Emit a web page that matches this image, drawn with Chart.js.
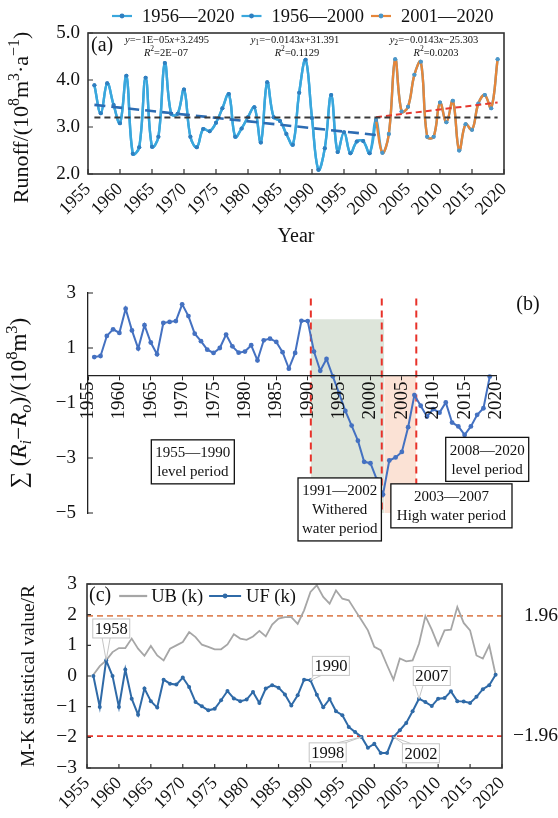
<!DOCTYPE html>
<html>
<head>
<meta charset="utf-8">
<script src="https://cdn.jsdelivr.net/npm/chart.js@4.4.1/dist/chart.umd.min.js"></script>
<style>
  html, body { margin: 0; padding: 0; background: #fff; }
  #wrap { position: relative; width: 558px; height: 818px; overflow: hidden; }
  canvas { position: absolute; left: 0; }
</style>
</head>
<body>
<div id="wrap">
  <canvas id="chartA" width="558" height="250" style="top:0"></canvas>
  <canvas id="chartB" width="558" height="300" style="top:250px"></canvas>
  <canvas id="chartC" width="558" height="258" style="top:560px"></canvas>
</div>
<script>
const FONT = '"Liberation Serif", "DejaVu Serif", serif';

// ---- data ----
const years = [1956, 1957, 1958, 1959, 1960, 1961, 1962, 1963, 1964, 1965, 1966, 1967, 1968, 1969, 1970,
  1971, 1972, 1973, 1974, 1975, 1976, 1977, 1978, 1979, 1980, 1981, 1982, 1983, 1984, 1985, 1986, 1987,
  1988, 1989, 1990, 1991, 1992, 1993, 1994, 1995, 1996, 1997, 1998, 1999, 2000, 2001, 2002, 2003, 2004,
  2005, 2006, 2007, 2008, 2009, 2010, 2011, 2012, 2013, 2014, 2015, 2016, 2017, 2018, 2019];

// (a) annual runoff, 10^8 m3/a
const runoff = [3.89, 3.29, 3.93, 3.47, 3.08, 4.09, 2.43, 2.57, 4.05, 2.58, 2.79, 4.36, 3.28, 3.28, 3.80,
  2.79, 2.57, 2.96, 2.91, 3.09, 3.40, 3.70, 2.79, 2.97, 3.21, 3.42, 2.67, 3.95, 3.21, 3.13, 2.85, 2.62,
  3.73, 4.43, 3.19, 2.09, 2.55, 3.68, 2.47, 2.89, 2.44, 2.69, 2.70, 2.44, 3.15, 2.45, 2.85, 4.44, 3.33,
  3.43, 4.11, 4.39, 2.79, 2.79, 3.52, 3.10, 3.56, 2.50, 3.06, 2.94, 3.50, 3.68, 3.40, 4.44];

// trend lines of (a)
const meanYears = [1956, 2019];
const meanLine = [3.2, 3.2];
const trend1Years = [1956, 2000];
const trend1 = [3.47, 2.83];
const trend2Years = [2000, 2019];
const trend2 = [3.21, 3.52];

// (b) cumulative anomaly
const cumAnomaly = [0.67, 0.71, 1.44, 1.68, 1.55, 2.43, 1.64, 0.98, 1.83, 1.20, 0.77, 1.91, 1.95, 1.98, 2.59,
  2.16, 1.52, 1.25, 0.94, 0.82, 1.00, 1.49, 1.06, 0.83, 0.87, 1.10, 0.55, 1.28, 1.34, 1.22, 0.85, 0.25,
  0.82, 1.99, 1.98, 0.87, 0.17, 0.60, -0.03, -0.64, -1.29, -1.82, -2.37, -3.14, -3.19, -3.78, -4.33, -3.09, -2.98,
  -2.78, -1.88, -0.71, -1.10, -1.49, -1.22, -1.35, -0.98, -1.71, -1.85, -2.16, -1.85, -1.43, -1.19, -0.04];

const periodBreaks = [1990.5, 2001.8, 2007.3];
const witheredSpan = [1990.5, 2002.2];
const witheredTop = 2.05;
const highSpan = [2002.2, 2007.3];
const highTop = 0;
const shadeBottom = -5;
const breakTop = 2.8;

// (c) Mann-Kendall
const ufStat = [0.00, -1.01, 0.51, 0.00, -1.01, 0.21, -0.74, -1.26, -0.41, -0.82, -1.03, -0.12, -0.25, -0.28, -0.05,
  -0.36, -0.85, -0.99, -1.12, -1.07, -0.79, -0.49, -0.73, -0.82, -0.77, -0.52, -0.88, -0.41, -0.30, -0.38, -0.60, -0.96,
  -0.63, -0.12, -0.14, -0.61, -1.02, -0.75, -1.15, -1.28, -1.66, -1.83, -1.99, -2.34, -2.21, -2.51, -2.51, -1.99, -1.77,
  -1.53, -1.15, -0.74, -0.85, -0.98, -0.74, -0.72, -0.50, -0.82, -0.83, -0.88, -0.68, -0.43, -0.30, 0.04];
const ubStat = [0.04, 0.32, 0.51, 0.78, 0.91, 0.91, 1.22, 0.89, 0.66, 0.98, 0.67, 0.51, 0.89, 1.00, 1.11,
  1.43, 1.27, 1.02, 0.95, 0.87, 0.87, 1.03, 1.36, 1.22, 1.18, 1.29, 1.47, 1.29, 1.68, 1.87, 1.92, 1.92,
  1.70, 2.14, 2.74, 2.96, 2.58, 2.36, 2.79, 2.52, 2.47, 2.14, 1.82, 1.49, 0.95, 0.84, 0.35, -0.12, 0.57,
  0.48, 0.51, 1.05, 1.95, 1.51, 1.00, 1.49, 1.51, 2.25, 1.73, 1.49, 0.67, 0.57, 1.00, 0.04];
const critical = [1.96, -1.96];

// tick labels
const yearTicks = [1955, 1960, 1965, 1970, 1975, 1980, 1985, 1990, 1995, 2000, 2005, 2010, 2015, 2020];
const runoffTicks = [2.0, 2.5, 3.0, 3.5, 4.0, 4.5, 5.0];
const cumTicks = [-5, -3, -1, 1, 3];
const mkTicks = [-3, -2, -1, 0, 1, 2, 3];

// ---- helpers ----
const pts = (xs, ys) => xs.map((x, i) => ({ x, y: ys[i] }));
const runoffPts = pts(years, runoff);
const minus = v => String(v).replace('-', '\u2212');
const setTicks = list => s => { s.ticks = list.map(v => ({ value: v })); };

function drawRuns(ctx, runs, cx, cy, size) {
  const fontOf = r => {
    const st = r[1] || '';
    const small = st.includes('sub') || st.includes('sup');
    return (st.startsWith('i') ? 'italic ' : '') + (small ? size * 0.72 : size) + 'px ' + FONT;
  };
  let w = 0;
  runs.forEach(r => { ctx.font = fontOf(r); w += ctx.measureText(r[0]).width; });
  let x = cx - w / 2;
  ctx.textAlign = 'left';
  ctx.textBaseline = 'middle';
  runs.forEach(r => {
    const st = r[1] || '';
    const dy = st.includes('sub') ? size * 0.28 : st.includes('sup') ? -size * 0.34 : 0;
    ctx.font = fontOf(r);
    ctx.fillText(r[0], x, cy + dy);
    x += ctx.measureText(r[0]).width;
  });
}

function rotatedRuns(ctx, runs, x, y, size) {
  ctx.save();
  ctx.translate(x, y);
  ctx.rotate(-Math.PI / 2);
  drawRuns(ctx, runs, 0, 0, size);
  ctx.restore();
}

function frameAndTicks(chart, len) {
  const { ctx, chartArea: a, scales: { x, y } } = chart;
  ctx.save();
  ctx.strokeStyle = '#333';
  ctx.lineWidth = 1.2;
  ctx.beginPath();
  x.ticks.forEach(t => { const px = x.getPixelForValue(t.value); ctx.moveTo(px, a.bottom); ctx.lineTo(px, a.bottom - len); });
  y.ticks.forEach(t => { const py = y.getPixelForValue(t.value); ctx.moveTo(a.left, py); ctx.lineTo(a.left + len, py); });
  ctx.stroke();
  ctx.lineWidth = 1.6;
  ctx.strokeRect(a.left, a.top, a.right - a.left, a.bottom - a.top);
  ctx.restore();
}

function textBox(ctx, lines, cx, cy, o) {
  ctx.font = o.size + 'px ' + FONT;
  const w = Math.max(...lines.map(l => ctx.measureText(l).width)) + 2 * o.padX;
  const h = lines.length * o.lineH + 2 * o.padY;
  const x0 = cx - w / 2, y0 = cy - h / 2;
  ctx.fillStyle = '#fff';
  ctx.fillRect(x0, y0, w, h);
  ctx.strokeStyle = o.border;
  ctx.lineWidth = o.lw;
  ctx.strokeRect(x0, y0, w, h);
  ctx.fillStyle = '#111';
  ctx.textAlign = 'center';
  ctx.textBaseline = 'middle';
  lines.forEach((l, i) => ctx.fillText(l, cx, y0 + o.padY + o.lineH * (i + 0.5) + 1));
  return { x0, y0, w, h };
}

function legendSymbol(ctx, x, y, w, line, dot) {
  ctx.strokeStyle = line;
  ctx.lineWidth = 2.2;
  ctx.beginPath(); ctx.moveTo(x, y); ctx.lineTo(x + w, y); ctx.stroke();
  if (dot) {
    ctx.fillStyle = dot;
    ctx.beginPath(); ctx.arc(x + w / 2, y, 2.4, 0, Math.PI * 2); ctx.fill();
  }
}

function yearAxis(height) {
  return {
    type: 'linear', min: 1955, max: 2020,
    afterBuildTicks: setTicks(yearTicks),
    afterFit: s => { s.height = height; },
    grid: { display: false, drawTicks: false },
    border: { display: false },
    ticks: {
      autoSkip: false, minRotation: 45, maxRotation: 45, padding: 5, color: '#111',
      font: { family: FONT, size: 18 }, callback: v => String(v)
    }
  };
}

Chart.defaults.animation = false;
Chart.defaults.plugins.legend.display = false;
Chart.defaults.plugins.tooltip.enabled = false;
Chart.defaults.font.family = FONT;

// ---- (a) runoff ----
const decorA = {
  id: 'decorA',
  afterDraw(chart) {
    const { ctx, chartArea: a } = chart;
    frameAndTicks(chart, 5);
    ctx.save();
    ctx.fillStyle = '#111';
    rotatedRuns(ctx, [['Runoff/(10'], ['8', 'sup'], ['m'], ['3', 'sup'], ['\u00b7a'], ['\u22121', 'sup'], [')']], 22, (a.top + a.bottom) / 2 + 14, 22);
    ctx.font = '20px ' + FONT;
    ctx.textAlign = 'left'; ctx.textBaseline = 'middle';
    ctx.fillText('(a)', a.left + 3, a.top + 13);
    const eqY1 = a.top + 7, eqY2 = a.top + 20;
    drawRuns(ctx, [['y', 'i'], ['=\u22121E\u221205'], ['x', 'i'], ['+3.2495']], 167, eqY1, 10.5);
    drawRuns(ctx, [['R', 'i'], ['2', 'sup'], ['=2E\u221207']], 166, eqY2, 10.5);
    drawRuns(ctx, [['y', 'i'], ['1', 'sub'], ['=\u22120.0143'], ['x', 'i'], ['+31.391']], 295, eqY1, 10.5);
    drawRuns(ctx, [['R', 'i'], ['2', 'sup'], ['=0.1129']], 297, eqY2, 10.5);
    drawRuns(ctx, [['y', 'i'], ['2', 'sub'], ['=\u22120.0143'], ['x', 'i'], ['\u221225.303']], 434, eqY1, 10.5);
    drawRuns(ctx, [['R', 'i'], ['2', 'sup'], ['=0.0203']], 436, eqY2, 10.5);

    // legend
    const items = [0, 1, 2].map(i => chart.data.datasets[i]);
    let x = 112;
    items.forEach(ds => {
      legendSymbol(ctx, x, 16, 20, ds.borderColor, ds.pointBackgroundColor);
      ctx.fillStyle = '#111';
      ctx.font = '18.5px ' + FONT;
      ctx.textAlign = 'left'; ctx.textBaseline = 'middle';
      ctx.fillText(ds.label, x + 30, 17);
      x += 30 + ctx.measureText(ds.label).width + 7;
    });
    ctx.restore();
  }
};

new Chart(document.getElementById('chartA'), {
  type: 'line',
  data: {
    datasets: [
      { label: '1956\u20142020', data: runoffPts, borderColor: '#3aa7dd', borderWidth: 2.4, tension: 0.4,
        pointRadius: 2, pointBackgroundColor: '#2f7fc0', pointBorderWidth: 0, order: 4 },
      { label: '1956\u20142000', data: runoffPts.filter(p => p.x <= 2000), borderColor: '#3aa7dd', borderWidth: 2.4, tension: 0.4,
        pointRadius: 2, pointBackgroundColor: '#2f7fc0', pointBorderWidth: 0, order: 3 },
      { label: '2001\u20142020', data: runoffPts.filter(p => p.x >= 2000), borderColor: '#e6863a', borderWidth: 2.4, tension: 0.4,
        pointRadius: 2, pointBackgroundColor: '#4a97c9', pointBorderWidth: 0, order: 2 },
      { data: pts(meanYears, meanLine), borderColor: '#3a3a3a', borderWidth: 2, borderDash: [6, 4], pointRadius: 0, order: 1 },
      { data: pts(trend1Years, trend1), borderColor: '#2c6cb3', borderWidth: 2.6, borderDash: [11, 6], pointRadius: 0, order: 1 },
      { data: pts(trend2Years, trend2), borderColor: '#e5392f', borderWidth: 2, borderDash: [6, 4], pointRadius: 0, order: 1 }
    ]
  },
  options: {
    responsive: false,
    layout: { padding: { top: 33, right: 54, bottom: 0, left: 0 } },
    scales: {
      x: Object.assign(yearAxis(76), {
        title: { display: true, text: 'Year', color: '#111', font: { family: FONT, size: 20 }, padding: { top: 0, bottom: 1 } }
      }),
      y: {
        min: 2, max: 5,
        afterBuildTicks: setTicks(runoffTicks),
        afterFit: s => { s.width = 88; },
        grid: { display: false, drawTicks: false },
        border: { display: false },
        ticks: { padding: 8, color: '#111', font: { family: FONT, size: 19 }, callback: v => v.toFixed(1) }
      }
    }
  },
  plugins: [decorA]
});

// ---- (b) cumulative anomaly ----
const decorB = {
  id: 'decorB',
  afterDraw(chart) {
    const { ctx, chartArea: a, scales: { x, y } } = chart;
    ctx.save();
    // inward y ticks
    ctx.strokeStyle = '#222'; ctx.lineWidth = 1.2;
    ctx.beginPath();
    y.ticks.forEach(t => { const py = y.getPixelForValue(t.value); ctx.moveTo(a.left, py); ctx.lineTo(a.left + 5, py); });
    ctx.stroke();
    ctx.fillStyle = '#111';
    rotatedRuns(ctx, [['\u2211 ('], ['R', 'i'], ['i', 'isub'], ['\u2212'], ['R', 'i'], ['o', 'isub'], [')/(10'], ['8', 'sup'], ['m'], ['3', 'sup'], [')']],
      20, (a.top + a.bottom) / 2, 23);
    ctx.font = '20px ' + FONT;
    ctx.textAlign = 'center'; ctx.textBaseline = 'middle';
    ctx.fillText('(b)', a.right + 32, a.top + 12);
    const o = { size: 15, lineH: 19, padX: 4, padY: 3, border: '#111', lw: 1.3 };
    textBox(ctx, ['1955\u20141990', 'level period'], x.getPixelForValue(1971.7), y.getPixelForValue(-3.14), o);
    textBox(ctx, ['1991\u20142002', 'Withered', 'water period'], x.getPixelForValue(1995.1), y.getPixelForValue(-4.87), o);
    textBox(ctx, ['2003\u20142007', 'High water period'], x.getPixelForValue(2012.9), y.getPixelForValue(-4.74), Object.assign({}, o, { padX: 6 }));
    textBox(ctx, ['2008\u20142020', 'level period'], x.getPixelForValue(2018.6), y.getPixelForValue(-3.05), o);
    ctx.restore();
  }
};

const breakSets = periodBreaks.map(b => ({
  data: [{ x: b, y: breakTop }, { x: b, y: shadeBottom }],
  borderColor: '#e8322a', borderWidth: 2, borderDash: [7, 5], pointRadius: 0, order: 2
}));

new Chart(document.getElementById('chartB'), {
  type: 'line',
  data: {
    datasets: [
      { data: pts(witheredSpan, [witheredTop, witheredTop]), fill: { value: shadeBottom }, backgroundColor: '#dde5da',
        borderWidth: 0, pointRadius: 0, order: 5 },
      { data: pts(highSpan, [highTop, highTop]), fill: { value: shadeBottom }, backgroundColor: '#fbe2d5',
        borderWidth: 0, pointRadius: 0, order: 5 },
      ...breakSets,
      { data: pts(years, cumAnomaly), borderColor: '#4471c1', borderWidth: 2, pointRadius: 2.4,
        pointBackgroundColor: '#4471c1', pointBorderWidth: 0, order: 1 }
    ]
  },
  options: {
    responsive: false,
    layout: { padding: { top: 43, right: 62, bottom: 37, left: 0 } },
    scales: {
      x: {
        type: 'linear', min: 1955, max: 2020, position: { y: 0 },
        afterBuildTicks: setTicks(yearTicks),
        grid: { display: true, drawOnChartArea: false, drawTicks: true, tickLength: 4, color: '#222', z: 1 },
        border: { display: true, color: '#222', width: 1.3, z: 1 },
        ticks: {
          autoSkip: false, minRotation: 90, maxRotation: 90, padding: 2, color: '#111', z: 1,
          font: { family: FONT, size: 19 }, callback: v => String(v)
        }
      },
      y: {
        min: -5, max: 3,
        afterBuildTicks: setTicks(cumTicks),
        afterFit: s => { s.width = 88; },
        grid: { display: false, drawTicks: false },
        border: { display: true, color: '#222', width: 1.3, z: 1 },
        ticks: { padding: 12, color: '#111', font: { family: FONT, size: 19 }, callback: minus }
      }
    }
  },
  plugins: [decorB]
});

// ---- (c) Mann-Kendall ----
const decorC = {
  id: 'decorC',
  afterDraw(chart) {
    const { ctx, chartArea: a, scales: { x, y } } = chart;
    frameAndTicks(chart, 4);
    ctx.save();
    // legend inside the frame
    const ly = a.top + 12;
    ctx.fillStyle = '#111';
    ctx.font = '20px ' + FONT;
    ctx.textAlign = 'left'; ctx.textBaseline = 'middle';
    ctx.fillText('(c)', a.left + 2, ly);
    let lx = a.left + 2 + ctx.measureText('(c)').width + 8;
    const ub = chart.data.datasets[2], uf = chart.data.datasets[3];
    legendSymbol(ctx, lx, ly, 28, ub.borderColor, null);
    lx += 32;
    ctx.font = '18.5px ' + FONT; ctx.fillStyle = '#111';
    ctx.fillText('UB (k)', lx, ly + 1);
    lx += ctx.measureText('UB (k)').width + 6;
    legendSymbol(ctx, lx, ly, 32, uf.borderColor, uf.pointBackgroundColor);
    lx += 37;
    ctx.fillStyle = '#111';
    ctx.fillText('UF (k)', lx, ly + 1);

    // callouts
    const callouts = [
      { text: '1958', year: 1958, at: [1958.8, 1.55] },
      { text: '1990', year: 1990, at: [1993.2, 0.33] },
      { text: '2007', year: 2007, at: [2009.0, 0.0] },
      { text: '1998', year: 1998, at: [1992.7, -2.49] },
      { text: '2002', year: 2003, at: [2007.3, -2.52] }
    ];
    const o = { size: 16.5, lineH: 17, padX: 2, padY: 1, border: '#c4c4c4', lw: 1 };
    callouts.forEach(c => {
      const i = years.indexOf(c.year);
      const tx = x.getPixelForValue(c.year), ty = y.getPixelForValue(ufStat[i]);
      const cx = x.getPixelForValue(c.at[0]), cy = y.getPixelForValue(c.at[1]);
      ctx.font = o.size + 'px ' + FONT;
      const w = ctx.measureText(c.text).width + 2 * o.padX, h = o.lineH + 2 * o.padY;
      const edgeY = ty < cy ? cy - h / 2 : cy + h / 2;
      const ex = Math.min(Math.max(tx, cx - w / 2 + 5), cx + w / 2 - 5);
      ctx.fillStyle = '#fff';
      ctx.strokeStyle = '#c4c4c4';
      ctx.lineWidth = 1;
      ctx.beginPath();
      ctx.moveTo(ex - 4, edgeY); ctx.lineTo(tx, ty); ctx.lineTo(ex + 4, edgeY);
      ctx.fill(); ctx.stroke();
      textBox(ctx, [c.text], cx, cy, o);
    });
    ctx.restore();
  }
};

new Chart(document.getElementById('chartC'), {
  type: 'line',
  data: {
    datasets: [
      { data: [{ x: 1955, y: critical[0] }, { x: 2020, y: critical[0] }], borderColor: '#e0875a', borderWidth: 1.6,
        borderDash: [6, 4], pointRadius: 0, order: 4 },
      { data: [{ x: 1955, y: critical[1] }, { x: 2020, y: critical[1] }], borderColor: '#e8372b', borderWidth: 1.6,
        borderDash: [6, 4], pointRadius: 0, order: 4 },
      { label: 'UB (k)', data: pts(years, ubStat), borderColor: '#a6a6a6', borderWidth: 1.8, pointRadius: 0, order: 3 },
      { label: 'UF (k)', data: pts(years, ufStat), borderColor: '#2f6aa7', borderWidth: 2, pointRadius: 2,
        pointBackgroundColor: '#2f6aa7', pointBorderWidth: 0, order: 2 }
    ]
  },
  options: {
    responsive: false,
    layout: { padding: { top: 24, right: 0, bottom: 0, left: 0 } },
    scales: {
      x: yearAxis(50),
      y: {
        min: -3, max: 3,
        afterBuildTicks: setTicks(mkTicks),
        afterFit: s => { s.width = 87; },
        grid: { display: false, drawTicks: false },
        border: { display: false },
        ticks: { padding: 10, color: '#111', font: { family: FONT, size: 19.5 }, callback: minus },
        title: { display: true, text: 'M-K statistical value/R', color: '#111', font: { family: FONT, size: 19.5 }, padding: { top: 17, bottom: 0 } }
      },
      y1: {
        position: 'right', min: -3, max: 3,
        afterBuildTicks: setTicks(critical),
        afterFit: s => { s.width = 56; },
        grid: { display: false, drawTicks: false },
        border: { display: false },
        ticks: { padding: 2, crossAlign: 'far', color: '#111', font: { family: FONT, size: 19.5 }, callback: v => minus(v.toFixed(2)) }
      }
    }
  },
  plugins: [decorC]
});
</script>
</body>
</html>
